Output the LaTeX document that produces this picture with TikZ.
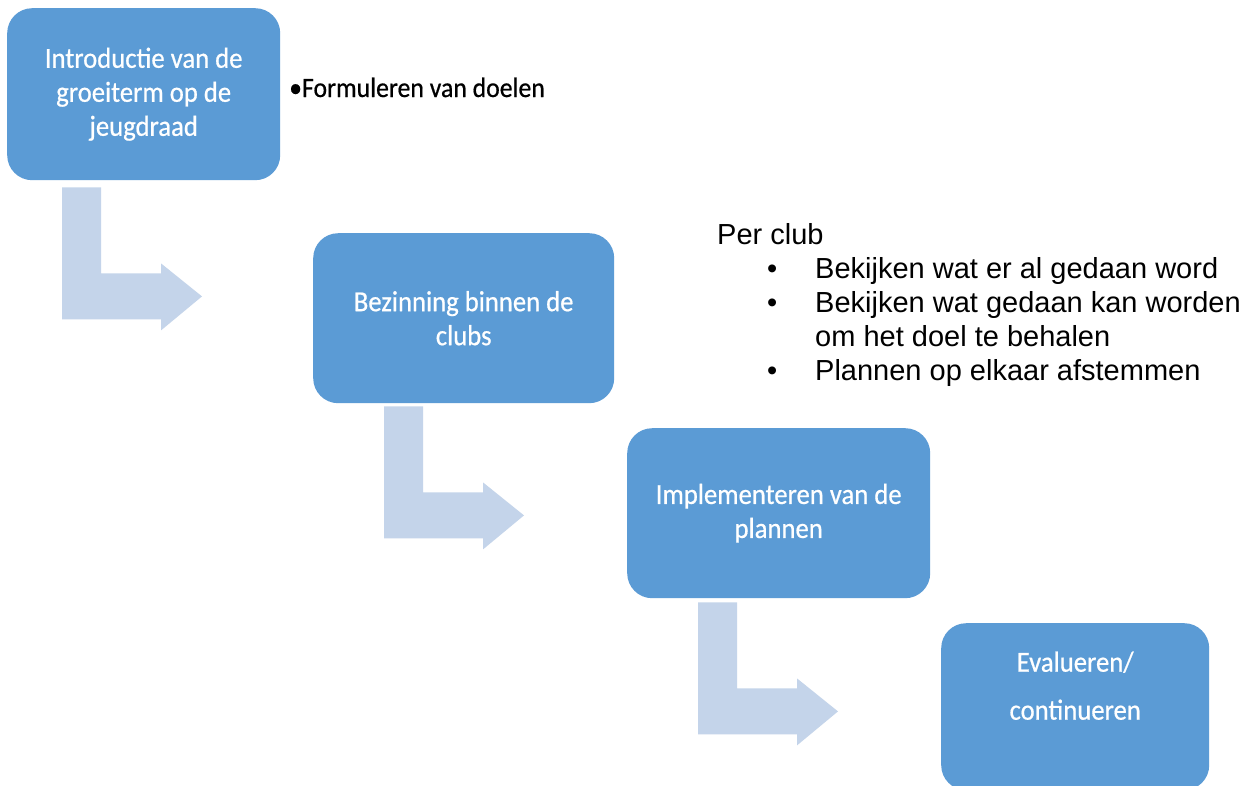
\documentclass[tikz,border=0pt]{standalone}
\usepackage{fontspec}
\setmainfont{Carlito}
\newfontfamily\calf[FakeBold=0.6,FakeStretch=0.92]{Carlito}
\newfontfamily\arialf{Liberation Sans}
\usetikzlibrary{calc}
\definecolor{boxblue}{HTML}{5B9BD5}
\definecolor{arrowblue}{HTML}{C4D4EA}
\begin{document}
\begin{tikzpicture}[x=1pt,y=-1pt,
  box/.style={fill=boxblue, draw=none, rounded corners=25pt, inner sep=0pt,
    text=white, font=\calf\fontsize{29}{34}\selectfont, align=center, anchor=north west},
  boxtext/.style={inner sep=0pt, text=white, align=center},
  bentarrow/.style={fill=arrowblue, draw=none},
  note/.style={anchor=base west, inner sep=0pt, font=\arialf\fontsize{29}{34}\selectfont}]
\useasboundingbox (0,0) rectangle (1253,785);
\clip (0,0) rectangle (1253,785);
\fill[white] (0,0) rectangle (1253,785);

% boxes
\node[box, minimum width=273pt, minimum height=172pt] (b1) at (7,8)
  {Introductie van de\\groeiterm op de\\jeugdraad};
\node[box, minimum width=301pt, minimum height=170pt] (b2) at (313,233)
  {Bezinning binnen de\\clubs};
\node[box, minimum width=303pt, minimum height=170pt] (b3) at (627,428)
  {Implementeren van de\\plannen};
\node[box, minimum width=268pt, minimum height=167pt] (b4) at (941,623) {};
\node[boxtext, font=\calf\fontsize{29}{48}\selectfont] (b4t) at ($(b4.center)+(0,-21)$)
  {Evalueren/\\continueren};

% bent arrows
\coordinate (a1) at ($(b1.south west)+(55,7)$);
\coordinate (a2) at ($(b2.south west)+(71,3)$);
\coordinate (a3) at ($(b3.south west)+(71,4)$);
\foreach \p in {a1,a2,a3}{
  \fill[bentarrow] (\p) -- ++(39,0) -- ++(0,86) -- ++(60,0) -- ++(0,-10)
    -- ++(41,33) -- ++(-41,34) -- ++(0,-11) -- ++(-99,0) -- cycle;
}

% side texts
\node[anchor=base west, inner sep=0pt, font=\calf\fontsize{28}{31}\selectfont] (goal)
  at (289,97) {•Formuleren van doelen};

\node[note] (pc) at (717,244) {Per club};
\node[note] (pc1) at (767,278) {\makebox[48pt][l]{•}Bekijken wat er al gedaan word};
\node[note] (pc2) at (767,312) {\makebox[48pt][l]{•}Bekijken wat gedaan kan worden};
\node[note] (pc3) at (815,346) {om het doel te behalen};
\node[note] (pc4) at (767,380) {\makebox[48pt][l]{•}Plannen op elkaar afstemmen};
\end{tikzpicture}
\end{document}
